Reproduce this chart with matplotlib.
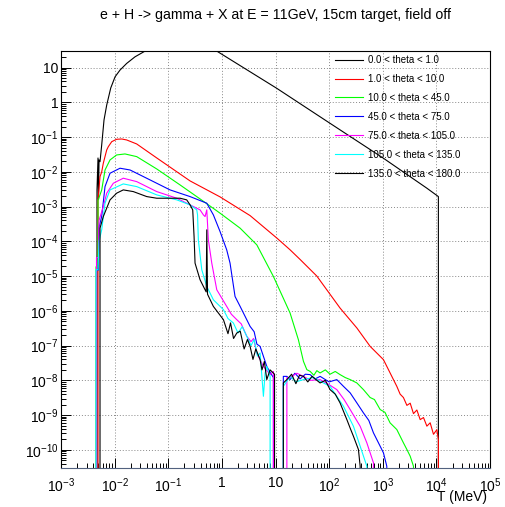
import numpy as np
import matplotlib.pyplot as plt
from matplotlib.ticker import LogLocator, NullFormatter, FuncFormatter

plt.rcParams['font.family'] = ['Liberation Sans', 'DejaVu Sans']
plt.rcParams['mathtext.fontset'] = 'custom'
plt.rcParams['mathtext.rm'] = 'Liberation Sans'
plt.rcParams['mathtext.it'] = 'Liberation Sans:italic'
plt.rcParams['mathtext.bf'] = 'Liberation Sans:bold'

# T in MeV, counts (0 = empty bin)
t_0_1 = [4.69e-3, 4.69e-3, 4.90e-3, 5.0e-3, 5.12e-3, 5.34e-3, 5.74e-3, 6.34e-3, 7.12e-3, 8.46e-3,
         1.02e-2, 1.26e-2, 1.68e-2, 2.40e-2, 3.69e-2, 6.0e-2, 0.1, 0.18, 0.3, 0.5,
         0.803, 10.6, 104, 1030, 6650, 10900, 10900]
n_0_1 = [0, 3.0e-3, 2.5e-2, 1.6e-3, 2.2e-2, 1.96e-2, 5.93e-2, 0.310, 0.836, 2.58,
         5.44, 8.47, 13.2, 20.4, 29.8, 42, 55, 62, 58, 45,
         29.8, 2.52, 0.249, 0.0246, 0.00338, 0.00194, 0]

t_1_10 = [4.90e-3, 4.90e-3, 5.34e-3, 5.74e-3, 6.15e-3, 7.12e-3, 7.63e-3, 8.83e-3, 1.09e-2, 1.36e-2,
          1.68e-2, 2.58e-2, 6.10e-2, 0.255, 0.925, 3.36, 10.6, 18.7, 28.8, 59.0,
          160, 329, 582, 1030, 1830, 2110, 2430, 2820, 3250, 3740,
          4330, 4990, 5750, 6650, 7660, 8830, 10200, 10900, 10900]
n_1_10 = [0, 1.5e-3, 7.28e-3, 9.93e-3, 1.77e-2, 4.26e-2, 5.30e-2, 7.38e-2, 8.65e-2, 8.81e-2,
          8.26e-2, 6.34e-2, 2.51e-2, 5.48e-3, 1.90e-3, 5.5e-4, 1.24e-4, 5.70e-5, 3.0e-5, 1.0e-5,
          1.20e-6, 3.21e-7, 9.49e-8, 3.94e-8, 6.7e-9, 4.0e-9, 3.2e-9, 1.9e-9, 2.2e-9, 1.1e-9,
          1.4e-9, 7.4e-10, 8.5e-10, 4.8e-10, 6.0e-10, 2.8e-10, 3.8e-10, 2.0e-10, 0]

t_10_45 = [4.50e-3, 4.50e-3, 4.90e-3, 4.90e-3, 5.74e-3, 6.62e-3, 8.21e-3, 1.09e-2, 1.56e-2, 2.58e-2,
           6.10e-2, 0.166, 0.392, 0.925, 2.19, 4.48, 9.14, 18.7, 26.7, 33.2,
           38.4, 44.2, 52, 59.0, 67.9, 85, 104, 130, 160, 200,
           247, 329, 436, 582, 700, 895, 1100, 1370, 1830, 2430,
           2820, 3250, 3740, 3740]
n_10_45 = [0, 1.85e-5, 1.85e-5, 1.5e-3, 3.0e-3, 1.13e-2, 2.20e-2, 3.06e-2, 3.27e-2, 2.74e-2,
           1.21e-2, 4.2e-3, 1.66e-3, 6.46e-4, 2.39e-4, 7.93e-5, 9.75e-6, 8.65e-7, 1.48e-7, 3.52e-8,
           2.03e-8, 1.81e-8, 1.4e-8, 1.9e-8, 1.63e-8, 2.0e-8, 1.5e-8, 1.8e-8, 1.46e-8, 1.2e-8,
           1.05e-8, 8.41e-9, 5.41e-9, 3.2e-9, 2.8e-9, 1.44e-9, 1.2e-9, 5.97e-10, 3.83e-10, 1.59e-10,
           1.02e-10, 6.55e-11, 3.38e-11, 0]

t_45_75 = [4.59e-3, 4.59e-3, 5.0e-3, 5.12e-3, 5.74e-3, 6.62e-3, 8.21e-3, 1.26e-2, 1.94e-2, 4.58e-2,
           0.108, 0.255, 0.523, 0.694, 0.925, 1.23, 1.42, 1.76, 2.19, 3.36,
           4.0, 4.5, 5.16, 6.88, 7.93, 9.14, 10.6, 12.2, 14.0, 16.3,
           18.7, 23, 28.8, 36, 44.2, 55, 67.9, 100, 139, 185,
           247, 329, 436, 550, 671, 895, 1030, 1190, 1190]
n_45_75 = [0, 1.5e-5, 1.5e-5, 2.5e-4, 5.2e-4, 3.76e-3, 9.12e-3, 1.27e-2, 1.13e-2, 5.85e-3,
           3.02e-3, 1.94e-3, 1.25e-3, 5.77e-4, 1.91e-4, 5.70e-5, 2.36e-5, 2.59e-6, 1.34e-6, 3.56e-7,
           2.5e-7, 1.1e-7, 9.49e-8, 2.52e-8, 1.7e-8, 1.2e-8, 0, 0, 1.3e-8, 1.30e-8,
           1.05e-8, 1.6e-8, 1.1e-8, 1.5e-8, 1.46e-8, 1.1e-8, 1.3e-8, 9.0e-9, 1.05e-8, 6.72e-9,
           4.35e-9, 2.24e-9, 1.16e-9, 7.0e-10, 3.08e-10, 1.27e-10, 8.2e-11, 3.38e-11, 0]

t_75_105 = [4.59e-3, 4.59e-3, 5.0e-3, 5.12e-3, 6.15e-3, 7.12e-3, 9.46e-3, 1.45e-2, 2.58e-2, 6.10e-2,
            0.144, 0.255, 0.392, 0.452, 0.486, 0.523, 0.560, 0.648, 0.803, 1.23,
            1.5, 1.90, 2.3, 2.92, 3.5, 3.9, 4.48, 5.95, 7.93, 9.14,
            10.6, 14.0, 16.3, 18.7, 25, 33.2, 45, 67.9, 100, 139,
            190, 247, 379, 505, 671, 671]
n_75_105 = [0, 3.4e-5, 3.4e-5, 4e-4, 1.0e-3, 2.43e-3, 4.7e-3, 6.55e-3, 5.23e-3, 2.7e-3,
            1.74e-3, 1.12e-3, 8.04e-4, 5.77e-4, 5.16e-4, 8.04e-4, 1.10e-4, 2.36e-5, 4.04e-6, 1.34e-6,
            8.0e-7, 5.55e-7, 4.2e-7, 1.84e-7, 1.3e-7, 1.6e-7, 6.12e-8, 2.52e-8, 1.46e-8, 1.8e-8,
            0, 0, 1.2e-8, 1.2e-8, 1.6e-8, 1.3e-8, 1.0e-8, 1.05e-8, 7.5e-9, 5.41e-9,
            2.8e-9, 1.44e-9, 4.77e-10, 1.59e-10, 4.23e-11, 0]

t_105_135 = [4.50e-3, 4.50e-3, 4.90e-3, 5.12e-3, 5.74e-3, 6.62e-3, 8.21e-3, 1.45e-2, 2.58e-2, 6.10e-2,
             0.144, 0.255, 0.340, 0.352, 0.364, 0.422, 0.523, 0.694, 1.07, 1.3,
             1.64, 2.0, 2.4, 2.92, 3.5, 4.0, 4.6, 5.16, 5.95, 6.40,
             6.88, 7.93, 9.14, 12.2, 14.0, 18.7, 24, 33.2, 50, 104,
             185, 284, 379, 505, 505]
n_105_135 = [0, 1.52e-5, 1.52e-5, 1e-4, 2.14e-4, 1.25e-3, 3.02e-3, 4.49e-3, 3.76e-3, 2.17e-3,
             1.56e-3, 1.12e-3, 8.04e-4, 5.77e-4, 1.10e-4, 1.52e-5, 5.03e-6, 2.08e-6, 1.08e-6, 6.0e-7,
             4.46e-7, 2.3e-7, 3.5e-7, 1.84e-7, 1.0e-7, 1.5e-7, 5.0e-8, 6.12e-8, 3.47e-9, 1.63e-8,
             2.52e-8, 1.30e-8, 0, 0, 6.72e-9, 1.30e-8, 9.0e-9, 1.05e-8, 1.2e-8, 6.72e-9,
             1.79e-9, 4.77e-10, 1.27e-10, 3.38e-11, 0]

t_135_180 = [5.34e-3, 5.34e-3, 6.15e-3, 8.21e-3, 1.09e-2, 1.45e-2, 2.23e-2, 3.97e-2, 6.10e-2, 0.108,
             0.166, 0.221, 0.255, 0.286, 0.303, 0.316, 0.392, 0.486, 0.51, 0.523,
             0.54, 0.694, 1.07, 1.3, 1.45, 1.65, 1.90, 2.2, 2.6, 3.0,
             3.36, 3.8, 4.3, 5.16, 5.6, 6.2, 6.88, 7.93, 9.6, 10.1,
             13.9, 14.0, 16.3, 20, 24, 28, 33.2, 40, 48, 67.9,
             85, 104, 130, 160, 214, 250, 284, 352, 379, 379]
n_135_180 = [0, 2.4e-4, 5.16e-4, 1.56e-3, 2.43e-3, 3.02e-3, 2.70e-3, 1.94e-3, 1.74e-3, 1.74e-3,
             1.74e-3, 1.56e-3, 1.12e-3, 8.04e-4, 1.38e-4, 2.36e-5, 7.83e-6, 4.04e-6, 3.5e-6, 2.14e-4,
             3.0e-6, 1.34e-6, 5.55e-7, 2.2e-7, 4.5e-7, 1.6e-7, 2.30e-7, 2.6e-7, 8.0e-8, 1.5e-7,
             9.49e-8, 4.0e-8, 8.0e-8, 3.94e-8, 2.0e-8, 3.5e-8, 1.05e-8, 2.0e-8, 1.5e-8, 0,
             0, 8.41e-9, 1.05e-8, 1.5e-8, 8.0e-9, 1.4e-8, 1.3e-8, 9.0e-9, 1.3e-8, 8.41e-9,
             1.0e-8, 5.41e-9, 4.0e-9, 2.24e-9, 7.43e-10, 4.0e-10, 2.46e-10, 1.02e-10, 3.38e-11, 0]

labels = ['0.0 < theta < 1.0', '1.0 < theta < 10.0', '10.0 < theta < 45.0', '45.0 < theta < 75.0',
          '75.0 < theta < 105.0', '105.0 < theta < 135.0', '135.0 < theta < 180.0']
colors = ['black', '#ff0000', '#00ff00', '#0000ff', '#ff00ff', '#00ffff', 'black']
series = [(t_0_1, n_0_1), (t_1_10, n_1_10), (t_10_45, n_10_45), (t_45_75, n_45_75),
          (t_75_105, n_75_105), (t_105_135, n_105_135), (t_135_180, n_135_180)]

fig = plt.figure(figsize=(5.05, 5.07), dpi=100)
ax = fig.add_axes([61/505, 1-468/507, (490-61)/505, (468-51)/507])
ax.set_xscale('log')
ax.set_yscale('log', nonpositive='clip')

for (t, n), c, lab in zip(series, colors, labels):
    ax.plot(t, n, color=c, lw=0.8, label=lab)

ax.set_xlim(1e-3, 1e5)
ax.set_ylim(3e-11, 30)

def fmt(v, pos):
    e = int(round(np.log10(v)))
    if e == 0:
        return '1'
    if e == 1:
        return '10'
    return r'$10^{%d}$' % e

for axis in (ax.xaxis, ax.yaxis):
    axis.set_major_locator(LogLocator(base=10, numticks=20))
    axis.set_minor_locator(LogLocator(base=10, subs=np.arange(2, 10), numticks=20))
    axis.set_major_formatter(FuncFormatter(fmt))
    axis.set_minor_formatter(NullFormatter())

ax.tick_params(which='both', direction='in', top=False, right=False, labelsize=10)
ax.tick_params(which='major', length=7, width=0.7)
ax.tick_params(which='minor', length=3.5, width=0.7)
ax.tick_params(axis='x', pad=6)
ax.tick_params(axis='y', pad=2)
ax.grid(True, which='major', color='#888888', linestyle=(0, (1, 2)), linewidth=0.7)

for s in ax.spines.values():
    s.set_linewidth(0.8)
ax.spines['bottom'].set_color('#52617f')

ax.legend(loc='upper left', bbox_to_anchor=(335/505, 1-55/507), bbox_transform=fig.transFigure,
          frameon=False, fontsize=7, handlelength=2.9, handletextpad=0.5, labelspacing=0.92,
          borderpad=0, borderaxespad=0)

fig.text(275/505, 1-15/507, 'e + H -> gamma + X at E = 11GeV, 15cm target, field off',
         ha='center', va='center', fontsize=10.2)
fig.text(487/505, 1-497/507, 'T (MeV)', ha='right', va='center', fontsize=10)

fig.savefig('out.png', dpi=100)
